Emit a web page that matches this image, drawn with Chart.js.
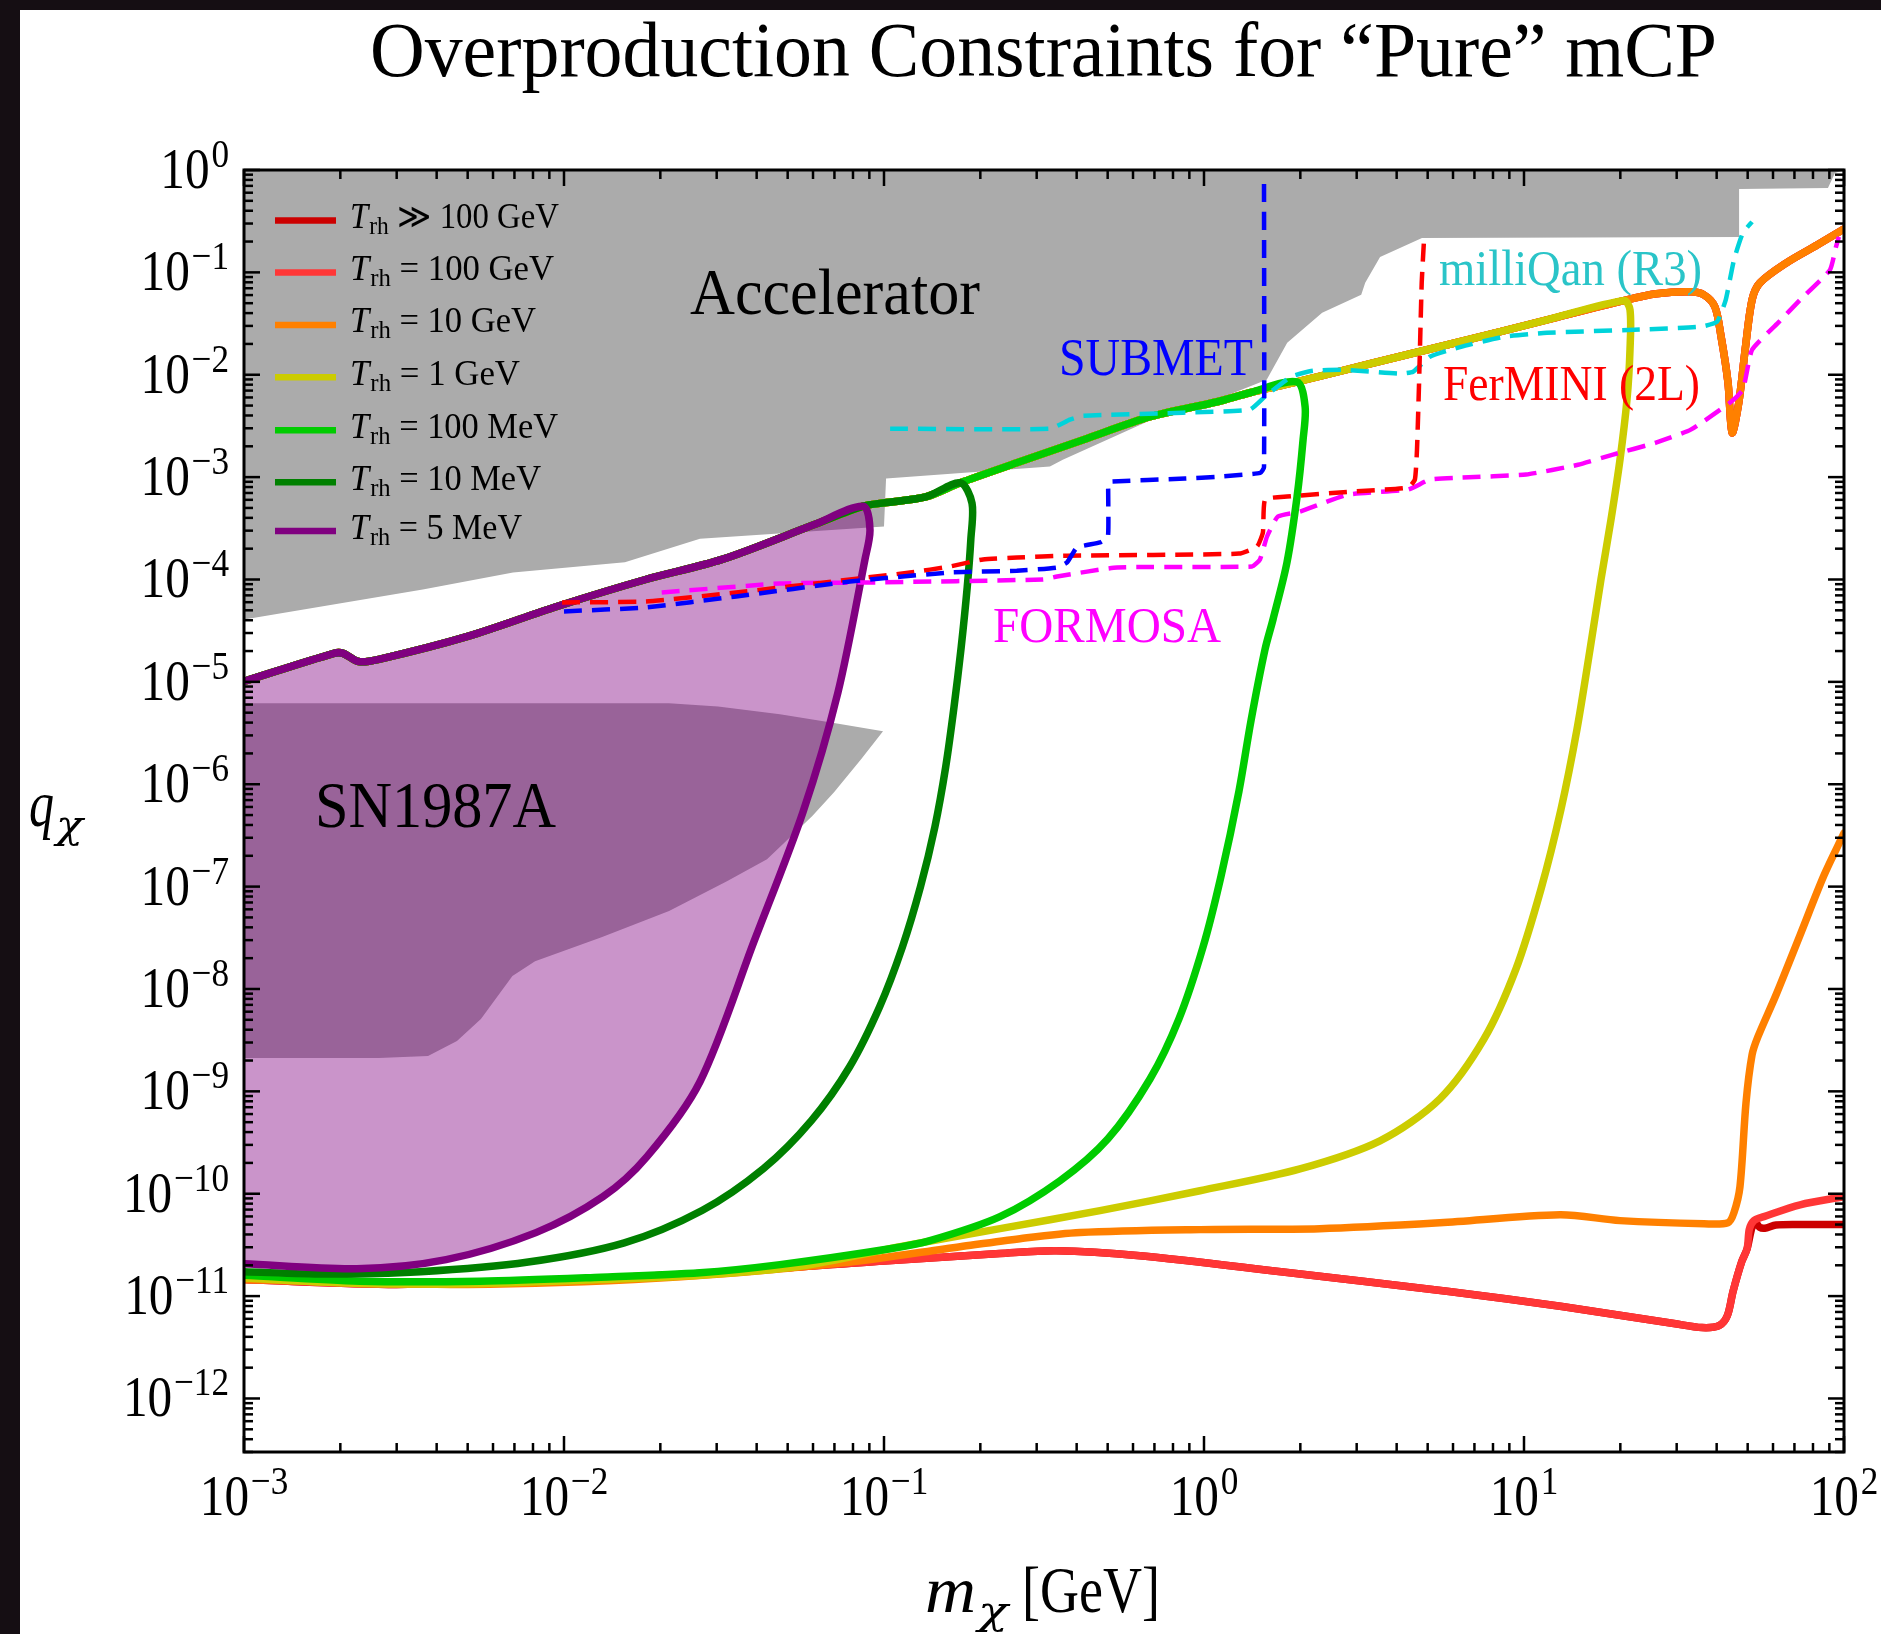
<!DOCTYPE html>
<html><head><meta charset="utf-8">
<script src="https://cdn.jsdelivr.net/npm/chart.js@4.4.1/dist/chart.umd.min.js"></script>
<style>
html,body{margin:0;padding:0;background:#150e13;width:1881px;height:1634px;overflow:hidden;}
#panel{position:absolute;left:20px;top:10px;width:1861px;height:1624px;background:#fff;}
#c{position:absolute;left:0;top:0;}
</style></head>
<body><div id="panel"></div><canvas id="c" width="1881" height="1634"></canvas>
<script>
// ---------------- DATA (m_chi in GeV, q_chi) ----------------
// common upper boundary shared by all T_rh curves
const upperMass   = [0.001,0.00191,0.00204,0.00228,0.00264,0.005,0.0095,0.018,0.0312,0.06,0.086,0.1,0.135,0.173,0.26,0.42,0.68,1.1,1.39,1.95,3.4,6.3,11.8,20.5,25.9,33.2,36.5,39.5,41.3,43.4,44.7,46.9,49.1,51.6,54.6,66.1,82.4,100];
const upperCharge = [1.01e-5,1.9e-5,1.9e-5,1.58e-5,1.66e-5,2.78e-5,5.45e-5,1.0e-4,1.57e-4,3.4e-4,5.2e-4,5.6e-4,6.4e-4,8.8e-4,1.38e-3,2.32e-3,3.89e-3,5.45e-3,6.67e-3,8.5e-3,0.0131,0.021,0.0344,0.053,0.0617,0.0645,0.0603,0.046,0.0235,8.4e-3,2.72e-3,5.33e-3,0.0175,0.0539,0.079,0.124,0.185,0.266];
// mass at which each curve leaves the common upper branch
const turnMass = {t5:0.086, t10:0.173, t100m:1.95, t1g:20.5, t10g:100, t100g:100, tinf:100};
// lower branches
const t5LowMass   = [0.0904,0.0872,0.0718,0.0558,0.0392,0.0266,0.01817,0.01324,0.00817,0.00428,0.00225,0.001];
const t5LowCharge = [3.07e-4,1.57e-4,7.9e-6,5.33e-7,2.88e-8,1.24e-9,2.3e-10,9.35e-11,4.17e-11,2.27e-11,1.85e-11,2.07e-11];
const t10LowMass   = [0.1884,0.1868,0.182,0.1743,0.1655,0.1559,0.1442,0.13,0.1142,0.0969,0.0781,0.0593,0.042,0.027,0.01543,0.00773,0.00356,0.00178,0.001];
const t10LowCharge = [5.56e-4,2.47e-4,8.41e-5,2.19e-5,5.68e-6,1.48e-6,3.83e-7,9.95e-8,2.58e-8,6.71e-9,1.74e-9,5.18e-10,1.76e-10,6.86e-11,3.31e-11,2.15e-11,1.73e-11,1.64e-11,1.73e-11];
const t100mLowMass   = [2.07,2.04,1.954,1.817,1.643,1.551,1.403,1.286,1.130,0.993,0.835,0.678,0.501,0.355,0.2304,0.1392,0.1044,0.0473,0.0266,0.013,0.00546,0.0023,0.001];
const t100mLowCharge = [4.88e-3,2.32e-3,6.46e-4,1.47e-4,4.07e-5,2.07e-5,4.21e-6,8.55e-7,1.26e-7,2.57e-8,5.1e-9,1.32e-9,3.44e-10,1.34e-10,5.97e-11,3.48e-11,2.9e-11,2.03e-11,1.69e-11,1.53e-11,1.4e-11,1.4e-11,1.6e-11];
const t1gLowMass   = [21.44,21.44,20.98,19.95,18.70,17.40,16.08,14.64,13.05,11.30,9.44,7.50,5.46,3.548,1.995,0.9716,0.4732,0.2304,0.1122,0.0546,0.0266,0.01296,0.00546,0.0023,0.001];
const t1gLowCharge = [0.0431,0.01754,5.7e-3,1.48e-3,3.85e-4,1.0e-4,2.07e-5,3.44e-6,5.7e-7,9.45e-8,1.57e-8,3.25e-9,8.45e-10,3.29e-10,1.75e-10,1.07e-10,6.83e-11,4.56e-11,3.04e-11,1.95e-11,1.6e-11,1.45e-11,1.33e-11,1.33e-11,1.5e-11];
const t10gLowMass   = [100,86.6,72.9,61.3,53.8,51.6,49.4,47.3,45.3,43.4,36.5,19.95,12.95,5.46,2.30,0.972,0.41,0.266,0.173,0.073,0.02,0.005,0.001];
const t10gLowCharge = [3.33e-7,1.29e-7,3.36e-8,8.73e-9,3.4e-9,2.27e-9,7.73e-10,1.17e-10,6.53e-11,5.21e-11,5.09e-11,5.46e-11,6.24e-11,5.21e-11,4.56e-11,4.46e-11,4.17e-11,3.64e-11,3.04e-11,2.1e-11,1.5e-11,1.3e-11,1.45e-11];
const t100gLowMass   = [100,72.9,56.2,52.3,50.6,49.8,47.9,45.0,43.2,40.7,36.0,29.4,13.15,5.83,1.74,0.631,0.345,0.23,0.1,0.03,0.01,0.003,0.001];
const t100gLowCharge = [9.35e-11,7.8e-11,5.97e-11,5.46e-11,4.5e-11,2.9e-11,2.17e-11,1.11e-11,6.45e-12,5.15e-12,4.93e-12,5.4e-12,7.9e-12,1.11e-11,1.73e-11,2.48e-11,2.78e-11,2.6e-11,2.2e-11,1.7e-11,1.45e-11,1.3e-11,1.45e-11];
const tinfLowMass   = [100,75,61.3,56.5,54.5,53,51.6,49.8,47.9,45.0,43.2,40.7,36.0,29.4,13.15,5.83,1.74,0.631,0.345,0.23,0.1,0.03,0.01,0.003,0.001];
const tinfLowCharge = [5.0e-11,5.0e-11,4.95e-11,4.6e-11,4.7e-11,5.2e-11,4.7e-11,2.9e-11,2.17e-11,1.11e-11,6.45e-12,5.15e-12,4.93e-12,5.4e-12,7.9e-12,1.11e-11,1.73e-11,2.48e-11,2.78e-11,2.6e-11,2.2e-11,1.7e-11,1.45e-11,1.3e-11,1.45e-11];
// experiments (dashed)
const subMass   = [0.01,0.018,0.0345,0.0783,0.1607,0.26,0.3475,0.3733,0.401,0.473,0.501,0.502,0.51,0.872,1.106,1.50,1.54,1.54];
const subCharge = [4.88e-5,5.33e-5,6.83e-5,9.55e-5,1.17e-4,1.22e-4,1.31e-4,1.47e-4,2.05e-4,2.30e-4,2.63e-4,8.5e-4,9.04e-4,9.67e-4,1.01e-3,1.1e-3,1.25e-3,0.8];
const ferMass   = [0.00986,0.018,0.0345,0.0783,0.1206,0.1607,0.2039,0.2606,0.3733,1.286,1.465,1.528,1.552,1.817,2.90,4.34,4.56,4.63,4.70,4.79,4.87];
const ferCharge = [5.97e-5,6.10e-5,7.46e-5,1.0e-4,1.17e-4,1.34e-4,1.57e-4,1.64e-4,1.71e-4,1.79e-4,2.10e-4,2.88e-4,6.03e-4,6.46e-4,7.22e-4,7.91e-4,9.45e-4,1.85e-3,8.36e-3,0.079,0.2075];
const forMass   = [0.0202,0.0473,0.0904,0.314,0.3475,0.535,1.413,1.496,1.574,1.702,1.995,2.818,4.34,5.08,6.35,10.15,14.75,18.97,25.85,33.2,44.0,48.3,51.6,62.2,72.9,90.4,94.4,96.4];
const forCharge = [7.46e-5,9.14e-5,9.35e-5,1.0e-4,1.07e-4,1.31e-4,1.34e-4,1.57e-4,2.63e-4,4.12e-4,4.61e-4,6.75e-4,7.55e-4,9.45e-4,9.89e-4,1.06e-3,1.32e-3,1.66e-3,2.17e-3,2.91e-3,5.33e-3,7.14e-3,0.01754,0.0321,0.0539,0.1057,0.1774,0.222];
const mqMass   = [0.1045,0.33,0.381,0.419,0.859,1.39,1.55,1.87,2.19,2.72,4.10,4.50,5.08,6.35,8.66,11.8,22.1,35.5,40.1,42.7,45.3,48.3,51.6];
const mqCharge = [2.97e-3,2.97e-3,3.64e-3,3.98e-3,4.26e-3,4.56e-3,6.10e-3,9.55e-3,0.01094,0.0112,0.01023,0.0107,0.0150,0.01875,0.0235,0.0257,0.0275,0.0294,0.0329,0.0539,0.1324,0.243,0.311];
// excluded regions (closed outlines)
const snMass   = [0.001,0.0213,0.0303,0.0473,0.0676,0.0993,0.0848,0.0698,0.0596,0.0431,0.0323,0.0213,0.0131,0.00812,0.0069,0.0055,0.00463,0.00376,0.00264,0.001];
const snCharge = [6.17e-6,6.17e-6,5.76e-6,4.82e-6,4.03e-6,3.29e-6,1.75e-6,8.36e-7,4.88e-7,1.85e-7,1.13e-7,5.77e-8,3.21e-8,1.87e-8,1.34e-8,5.1e-9,3.11e-9,2.22e-9,2.12e-9,2.12e-9];
const accMass   = [0.001,0.00362,0.00693,0.0155,0.0266,0.1,0.1015,0.33,0.362,0.68,1.03,1.57,1.82,2.34,3.10,3.19,3.55,4.80,47.0,47.0,89.1,93.7,100,100,0.001];
const accCharge = [4.07e-5,7.98e-5,1.17e-4,1.47e-4,2.5e-4,3.3e-4,9.67e-4,1.27e-3,1.48e-3,3.6e-3,5.3e-3,8.93e-3,0.0205,0.0403,0.0603,0.079,0.1416,0.217,0.222,0.653,0.667,0.935,1,1,1];
// ticks and labels
const xTickExp = [-3,-2,-1,0,1,2];
const yTickExp = [0,-1,-2,-3,-4,-5,-6,-7,-8,-9,-10,-11,-12];
const legendRel  = ['≫','=','=','=','=','=','='];
const legendTemp = ['100 GeV','100 GeV','10 GeV','1 GeV','100 MeV','10 MeV','5 MeV'];

// ---------------- helpers ----------------
const pts = (xs, ys) => xs.map((x, i) => ({x: x, y: ys[i]}));
function curve(cut, lowX, lowY, gap) {
  const d = [];
  upperMass.forEach((m, i) => { if (m <= cut) d.push({x: m, y: upperCharge[i]}); });
  if (gap) d.push({x: lowX[0], y: null});
  return d.concat(pts(lowX, lowY));
}
const SERIF = "'Liberation Serif','DejaVu Serif',serif";
const C = {tinf:'#cc0000', t100g:'#ff3636', t10g:'#ff8000', t1g:'#cccc00', t100m:'#00cc00', t10:'#008000', t5:'#800080',
           sub:'#0000ff', fer:'#ff0000', form:'#ff00ff', mq:'#00d3da', gray:'#ababab'};
const solid = (label, data, color) => ({label, data, borderColor: color, borderWidth: 7.5, tension: 0.3,
  borderCapStyle: 'round', borderJoinStyle: 'round', fill: false, pointRadius: 0, showLine: true, spanGaps: false});
const dashed = (label, data, color) => ({label, data, borderColor: color, borderWidth: 4.5, tension: 0.15,
  borderDash: [18, 10], fill: false, pointRadius: 0, showLine: true});

const datasets = [
  dashed('SUBMET', pts(subMass, subCharge), C.sub),
  dashed('FerMINI (2L)', pts(ferMass, ferCharge), C.fer),
  dashed('FORMOSA', pts(forMass, forCharge), C.form),
  dashed('milliQan (R3)', pts(mqMass, mqCharge), C.mq),
  Object.assign(solid('T5', curve(turnMass.t5, t5LowMass, t5LowCharge), C.t5), {fill: 'shape', backgroundColor: 'rgba(128,0,128,0.42)'}),
  solid('T10', curve(turnMass.t10, t10LowMass, t10LowCharge), C.t10),
  solid('T100m', curve(turnMass.t100m, t100mLowMass, t100mLowCharge), C.t100m),
  solid('T1g', curve(turnMass.t1g, t1gLowMass, t1gLowCharge), C.t1g),
  solid('T10g', curve(turnMass.t10g, t10gLowMass, t10gLowCharge, true), C.t10g),
  solid('T100g', curve(turnMass.t100g, t100gLowMass, t100gLowCharge, true), C.t100g),
  solid('Tinf', curve(turnMass.tinf, tinfLowMass, tinfLowCharge, true), C.tinf),
  {label:'SN1987A', data: pts(snMass, snCharge), showLine: true, borderWidth: 0, borderColor: 'rgba(0,0,0,0)', tension: 0,
   fill: 'shape', backgroundColor: C.gray, pointRadius: 0},
  {label:'Accelerator', data: pts(accMass, accCharge), showLine: true, borderWidth: 0, borderColor: 'rgba(0,0,0,0)', tension: 0,
   fill: 'shape', backgroundColor: C.gray, pointRadius: 0}
];

function runs(ctx, parts, x, base, opt) {
  ctx.save();
  ctx.fillStyle = opt.color || '#000';
  ctx.textBaseline = 'alphabetic'; ctx.textAlign = 'left';
  let nat = 0;
  parts.forEach(p => { ctx.font = p.font; p.w = ctx.measureText(p.t).width; nat += p.w + (p.dx || 0); });
  const sx = opt.width ? opt.width / nat : (opt.sx || 1);
  const tot = nat * sx;
  const x0 = opt.align === 'center' ? x - tot / 2 : opt.align === 'right' ? x - tot : x;
  ctx.translate(x0, base); ctx.scale(sx, 1);
  let cx = 0;
  parts.forEach(p => { cx += (p.dx || 0); ctx.font = p.font; ctx.fillText(p.t, cx, p.dy || 0); cx += p.w; });
  ctx.restore();
}
const f = (sz, it) => (it ? 'italic ' : '') + sz + 'px ' + SERIF;
const GREEK = (sz) => "italic " + sz + "px 'DejaVu Serif',serif";

const decor = {
  id: 'decor',
  afterDatasetsDraw(chart) {
    const ctx = chart.ctx, a = chart.chartArea, xs = chart.scales.x, ys = chart.scales.y;
    ctx.save();
    ctx.strokeStyle = '#000'; ctx.lineWidth = 2.5;
    const seg = (x1, y1, x2, y2) => { ctx.beginPath(); ctx.moveTo(x1, y1); ctx.lineTo(x2, y2); ctx.stroke(); };
    for (let e = -3; e <= 2; e++) for (let m = 1; m <= 9; m++) {
      const v = m * Math.pow(10, e); if (v > 100.0001) continue;
      const p = xs.getPixelForValue(v), L = m === 1 ? 16 : 9;
      seg(p, a.bottom, p, a.bottom - L); seg(p, a.top, p, a.top + L);
    }
    for (let e = -13; e <= 0; e++) for (let m = 1; m <= 9; m++) {
      const v = m * Math.pow(10, e); if (v > 1.0001 || v < ys.min) continue;
      const p = ys.getPixelForValue(v), L = m === 1 ? 16 : 9;
      seg(a.left, p, a.left + L, p); seg(a.right, p, a.right - L, p);
    }
    ctx.lineWidth = 3; ctx.strokeRect(a.left, a.top, a.right - a.left, a.bottom - a.top);
    // tick labels
    xTickExp.forEach(e => {
      const p = xs.getPixelForValue(Math.pow(10, e));
      runs(ctx, [{t:'10', font:f(56)}, {t:(e < 0 ? '−' : '') + Math.abs(e), font:f(40), dy:-21, dx:2}], p, 1515, {align:'center', sx:0.88});
    });
    yTickExp.forEach(e => {
      const p = ys.getPixelForValue(Math.pow(10, e));
      runs(ctx, [{t:'10', font:f(56)}, {t:(e < 0 ? '−' : '') + Math.abs(e), font:f(40), dy:-21, dx:2}], 229, p + 18, {align:'right', sx:0.88});
    });
    // title & axis titles
    runs(ctx, [{t:'Overproduction Constraints for “Pure” mCP', font:f(78)}], 370, 76, {width:1347});
    runs(ctx, [{t:'m', font:f(66, true)}], 925, 1612, {width:51});
    runs(ctx, [{t:'χ', font:GREEK(40)}], 978, 1624, {width:30});
    runs(ctx, [{t:'[GeV]', font:f(66)}], 1022, 1612, {width:138});
    runs(ctx, [{t:'q', font:f(66, true)}], 29, 826, {width:25});
    runs(ctx, [{t:'χ', font:GREEK(40)}], 56, 838, {width:27});
    // region / experiment labels
    runs(ctx, [{t:'Accelerator', font:f(66)}], 690, 314, {width:290});
    runs(ctx, [{t:'SN1987A', font:f(66)}], 315, 827, {width:241});
    runs(ctx, [{t:'SUBMET', font:f(52)}], 1059, 375, {width:194, color:C.sub});
    runs(ctx, [{t:'milliQan (R3)', font:f(50)}], 1439, 285, {width:263, color:'#2ac4c8'});
    runs(ctx, [{t:'FerMINI (2L)', font:f(50)}], 1443, 400, {width:257, color:C.fer});
    runs(ctx, [{t:'FORMOSA', font:f(50)}], 993, 642, {width:228, color:C.form});
    // legend
    const legCols = [C.tinf, C.t100g, C.t10g, C.t1g, C.t100m, C.t10, C.t5];
    const legY = [220.4, 272.5, 324.9, 377.3, 430.2, 482.2, 531];
    const legW = [209, 204, 186, 170, 208, 191, 172];
    legCols.forEach((c, i) => {
      ctx.strokeStyle = c; ctx.lineWidth = 6.5; ctx.lineCap = 'butt';
      seg(275, legY[i], 336, legY[i]);
      runs(ctx, [{t:'T', font:f(35, true)}, {t:'rh', font:f(25), dy:6, dx:1}, {t:' ' + legendRel[i] + ' ' + legendTemp[i], font:f(35)}],
           350, legY[i] + 7.5, {width: legW[i]});
    });
    ctx.restore();
  }
};

new Chart(document.getElementById('c'), {
  type: 'scatter',
  data: {datasets},
  options: {
    responsive: false, animation: false, devicePixelRatio: 1,
    layout: {padding: {left: 244, top: 170, right: 37, bottom: 182}},
    plugins: {legend: {display: false}, tooltip: {enabled: false}, filler: {drawTime: 'beforeDatasetsDraw', propagate: false}},
    scales: {
      x: {type: 'logarithmic', min: 1e-3, max: 100, display: false},
      y: {type: 'logarithmic', min: Math.pow(10, -12.5), max: 1, display: false}
    }
  },
  plugins: [decor]
});
</script></body></html>
